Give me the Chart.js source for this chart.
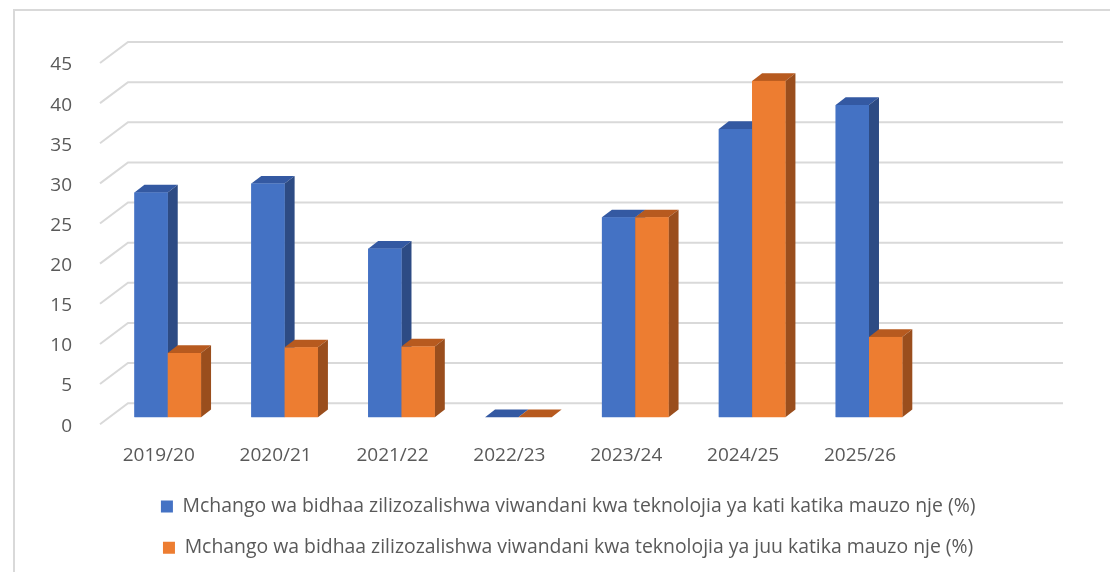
<!DOCTYPE html>
<html>
<head>
<meta charset="utf-8">
<script src="https://cdn.jsdelivr.net/npm/chart.js@4.4.1/dist/chart.umd.min.js"></script>
<style>
  html, body { margin: 0; padding: 0; background: #fff; }
  #wrap { width: 1110px; height: 572px; position: relative; }
</style>
</head>
<body>
<div id="wrap"><canvas id="chart"></canvas></div>
<script>
// --- DATA ---
const categories = ['2019/20', '2020/21', '2021/22', '2022/23', '2023/24', '2024/25', '2025/26', ''];
const tekKati = [28, 29.1, 21, 0, 24.9, 35.9, 38.9, null];
const tekJuu = [8, 8.7, 8.8, 0, 24.9, 41.9, 10, null];
const seriesNames = [
  'Mchango wa bidhaa zilizozalishwa viwandani kwa teknolojia ya kati katika mauzo nje (%)',
  'Mchango wa bidhaa zilizozalishwa viwandani kwa teknolojia ya juu katika mauzo nje (%)'
];
const yMax = 45, yStep = 5;

// rangi: mbele, juu, upande
const faces = [
  { front: '#4472C4', top: '#3459A2', side: '#2D4B84' },
  { front: '#ED7D31', top: '#B75A1F', side: '#9A4E1D' }
];

const BAR_DEPTH = { dx: 10, dy: -7.7 };
const WALL_BACK = { dx: 18.7, dy: -14 };
const WALL_FRONT = { dx: -9.3, dy: 7 };
const LEGEND_SHIFT = 46;

// ukuta wa nyuma + mistari ya gridi kwa mtazamo wa 3D
const wall3d = {
  id: 'wall3d',
  afterLayout(chart) {
    // legend imekaa katikati ya ukurasa, si ya eneo la chati
    chart.legend.left += LEGEND_SHIFT;
    chart.legend.right += LEGEND_SHIFT;
  },
  beforeDraw(chart) {
    const ctx = chart.ctx;
    ctx.save();
    ctx.strokeStyle = '#d9d9d9';
    ctx.lineWidth = 2;
    ctx.beginPath();
    ctx.moveTo(14, chart.height + 5);
    ctx.lineTo(14, 10);
    ctx.lineTo(chart.width + 5, 10);
    ctx.stroke();
    ctx.restore();
  },
  beforeDatasetsDraw(chart) {
    const { ctx, chartArea, scales: { y } } = chart;
    ctx.save();
    ctx.strokeStyle = '#d9d9d9';
    ctx.lineWidth = 2;
    y.ticks.forEach(t => {
      const py = y.getPixelForValue(t.value);
      ctx.beginPath();
      ctx.moveTo(chartArea.left + WALL_FRONT.dx, py + WALL_FRONT.dy);
      ctx.lineTo(chartArea.left + WALL_BACK.dx, py + WALL_BACK.dy);
      ctx.lineTo(chartArea.right + WALL_BACK.dx, py + WALL_BACK.dy);
      ctx.stroke();
    });
    ctx.restore();
  },
  afterDatasetsDraw(chart) {
    const ctx = chart.ctx;
    const { dx, dy } = BAR_DEPTH;
    ctx.save();
    categories.forEach((c, i) => {
      chart.data.datasets.forEach((ds, d) => {
        if (ds.data[i] == null) return;
        const bar = chart.getDatasetMeta(d).data[i];
        const { x, y, base, width } = bar.getProps(['x', 'y', 'base', 'width'], true);
        const l = x - width / 2, r = x + width / 2;
        const f = faces[d];
        // juu
        ctx.fillStyle = f.top;
        ctx.beginPath();
        ctx.moveTo(l, y); ctx.lineTo(r, y); ctx.lineTo(r + dx, y + dy); ctx.lineTo(l + dx, y + dy);
        ctx.closePath(); ctx.fill();
        // upande
        ctx.fillStyle = f.side;
        ctx.beginPath();
        ctx.moveTo(r, y); ctx.lineTo(r + dx, y + dy); ctx.lineTo(r + dx, base + dy); ctx.lineTo(r, base);
        ctx.closePath(); ctx.fill();
        // mbele
        ctx.fillStyle = f.front;
        ctx.fillRect(l, y, width, base - y);
      });
    });
    ctx.restore();
  }
};

const tickFont = { family: 'Open Sans', size: 19 };

new Chart(document.getElementById('chart'), {
  type: 'bar',
  data: {
    labels: categories,
    datasets: [
      { label: seriesNames[0], data: tekKati, backgroundColor: faces[0].front, borderWidth: 0 },
      { label: seriesNames[1], data: tekJuu, backgroundColor: faces[1].front, borderWidth: 0 }
    ]
  },
  options: {
    responsive: true,
    maintainAspectRatio: false,
    animation: false,
    layout: { padding: { left: 0, top: 56, right: 65.7, bottom: 4.5 } },
    datasets: { bar: { barPercentage: 1, categoryPercentage: 0.57 } },
    scales: {
      x: {
        grid: { display: false },
        border: { display: false },
        ticks: { color: '#595959', font: tickFont, padding: 18.6, labelOffset: -9, maxRotation: 0, autoSkip: false },
        afterFit: s => { s.height = 57.5; }
      },
      y: {
        min: 0, max: yMax,
        grid: { display: false },
        border: { display: false },
        ticks: { stepSize: yStep, color: '#595959', font: tickFont, padding: 29.3, labelOffset: 9 },
        afterFit: s => { s.width = 109.3; }
      }
    },
    plugins: {
      tooltip: { enabled: false },
      legend: {
        position: 'bottom',
        labels: { boxWidth: 12, boxHeight: 12, padding: 22, color: '#595959', font: { family: 'Open Sans', size: 19.4 } }
      }
    }
  },
  plugins: [wall3d]
});
</script>
</body>
</html>
